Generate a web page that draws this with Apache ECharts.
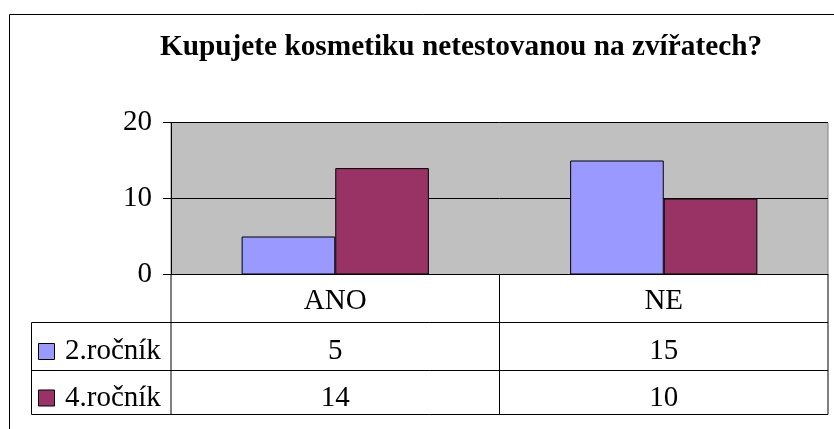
<!DOCTYPE html>
<html>
<head>
<meta charset="utf-8">
<script src="https://cdn.jsdelivr.net/npm/echarts@6/dist/echarts.min.js"></script>
<style>
html,body{margin:0;padding:0;background:#fff;}
#c{width:834px;height:429px;}
</style>
</head>
<body>
<div id="c"></div>
<script>
const title = 'Kupujete kosmetiku netestovanou na zvířatech?';
const categories = ['ANO', 'NE'];
const seriesNames = ['2.ročník', '4.ročník'];
const values2 = [5, 15];
const values4 = [14, 10];
const colors = ['#9999FF', '#993366'];
const yTicks = [0, 10, 20];

const FONT = 'Liberation Serif';
const FS = 29;
const chart = echarts.init(document.getElementById('c'), null, {renderer: 'canvas'});

const option = {
  animation: false,
  backgroundColor: '#ffffff',
  title: {
    text: title,
    left: 461, textAlign: 'center',
    top: 33, padding: 0,
    textStyle: {fontFamily: FONT, fontSize: 29.3, fontWeight: 'bold', color: '#000'}
  },
  grid: {
    left: 171, right: 6, top: 122.5, bottom: 154.5,
    show: true, backgroundColor: '#C0C0C0', borderColor: '#808080', borderWidth: 1
  },
  xAxis: {
    type: 'category',
    data: categories,
    axisLine: {show: true, lineStyle: {color: '#000', width: 1}},
    axisTick: {show: false},
    axisLabel: {fontFamily: FONT, fontSize: FS, color: '#000', margin: 12}
  },
  yAxis: {
    type: 'value',
    min: yTicks[0], max: yTicks[yTicks.length - 1], interval: 10,
    axisLine: {show: true, lineStyle: {color: '#000', width: 1}},
    axisTick: {show: true, length: 8, lineStyle: {color: '#000'}},
    axisLabel: {fontFamily: FONT, fontSize: FS, color: '#000', margin: 19},
    splitLine: {show: true, lineStyle: {color: '#000', width: 1}}
  },
  series: [
    {name: seriesNames[0], type: 'bar', data: values2, barGap: '0%', barCategoryGap: '43%',
     itemStyle: {color: colors[0], borderColor: '#000', borderWidth: 1}},
    {name: seriesNames[1], type: 'bar', data: values4, barGap: '0%', barCategoryGap: '43%',
     itemStyle: {color: colors[1], borderColor: '#000', borderWidth: 1}}
  ]
};
chart.setOption(option);

// Data table drawn from the axes' own pixel scale
const zeroY = chart.convertToPixel({yAxisIndex: 0}, 0);
const gridRect = chart.getModel().getComponent('grid').coordinateSystem.getRect();
const leftX = gridRect.x, rightX = gridRect.x + gridRect.width;
const centers = categories.map(c => chart.convertToPixel({xAxisIndex: 0}, c));
const catW = gridRect.width / categories.length;
const tableLeft = 31.5;
const r1 = zeroY + 48, r2 = r1 + 48, r3 = r2 + 44;
const textMid = [r1 + 29, r2 + 27.5];
const lineStyle = {stroke: '#000', lineWidth: 1};
const g = [];
g.push({type: 'rect', shape: {x: 9.5, y: 14.5, width: 900, height: 600}, style: {fill: null, stroke: '#000', lineWidth: 1}, silent: true, z: 0});
const vx = [leftX];
for (let i = 1; i <= categories.length; i++) vx.push(leftX + catW * i);
vx.forEach(x => g.push({type: 'line', shape: {x1: x, y1: zeroY, x2: x, y2: r3}, style: lineStyle, z: 10}));
g.push({type: 'line', shape: {x1: tableLeft, y1: r1, x2: tableLeft, y2: r3}, style: lineStyle, z: 10});
[r1, r2, r3].forEach(y => g.push({type: 'line', shape: {x1: tableLeft, y1: y, x2: rightX, y2: y}, style: lineStyle, z: 10}));
const rows = [values2, values4];
rows.forEach((vals, ri) => {
  const yMid = textMid[ri];
  g.push({type: 'rect', shape: {x: 38.5, y: yMid - 8, width: 16, height: 16},
          style: {fill: colors[ri], stroke: '#000', lineWidth: 1}, z: 10});
  g.push({type: 'text', x: 65, y: yMid, style: {text: seriesNames[ri], fontFamily: FONT, fontSize: FS, fill: '#000', align: 'left', verticalAlign: 'middle'}, z: 10});
  vals.forEach((v, ci) => {
    g.push({type: 'text', x: centers[ci], y: yMid, style: {text: String(v), fontFamily: FONT, fontSize: FS, fill: '#000', align: 'center', verticalAlign: 'middle'}, z: 10});
  });
});
chart.setOption({graphic: {elements: g}});
</script>
</body>
</html>
